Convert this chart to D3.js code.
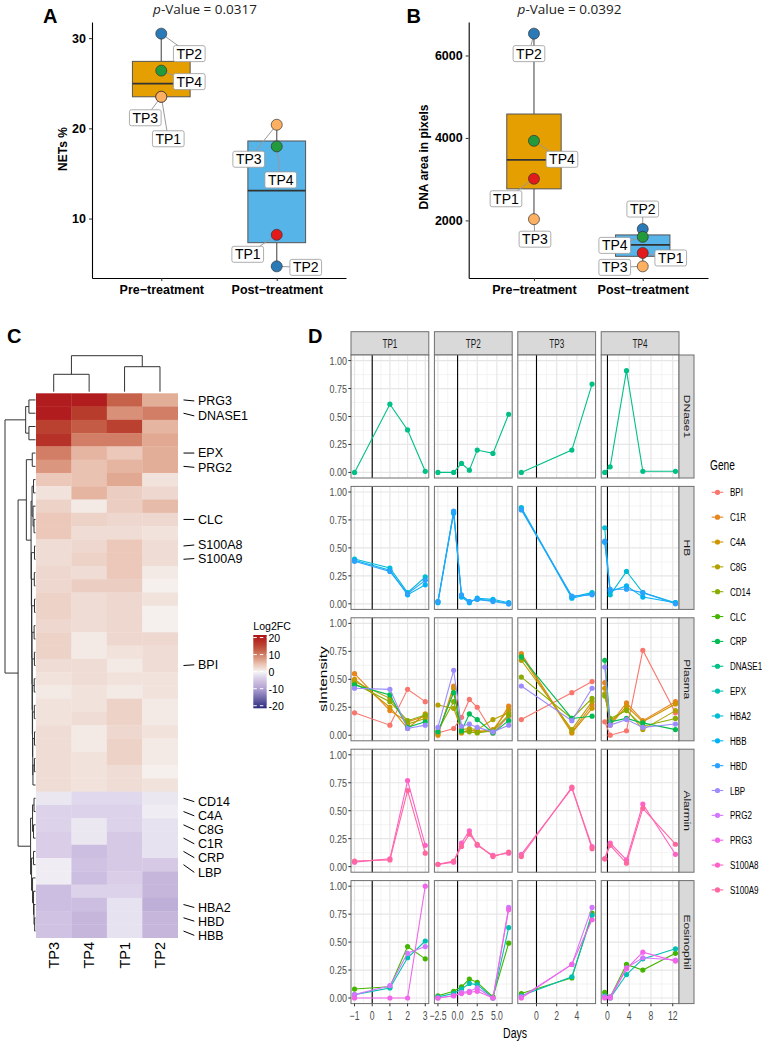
<!DOCTYPE html>
<html><head><meta charset="utf-8">
<script src="https://cdn.jsdelivr.net/npm/d3@7"></script>
<style>body{margin:0;background:#fff}svg{display:block;font-family:'Liberation Sans',Arial,sans-serif}</style>
</head><body>
<svg id="c" width="762" height="1042"></svg>
<script>
// ================= DATA =================
const boxGroups = ["Pre\u2212treatment", "Post\u2212treatment"];
const patients = ["TP1", "TP2", "TP3", "TP4"];
const netsPre = [23.5, 30.5, 23.5, 26.4];
const netsPost = [8.2, 4.7, 20.4, 18.0];
const netsTicks = [10, 20, 30];
const dnaPre = [3010, 6530, 2030, 3930];
const dnaPost = [1210, 1790, 885, 1600];
const dnaTicks = [2000, 4000, 6000];

const hmCols = ["TP3", "TP4", "TP1", "TP2"];
const hmValues = [
  [20, 20, 12.5, 6], [20, 16, 8.5, 10], [15.5, 13, 15.5, 5.5], [17.5, 10, 10, 6.5],
  [10, 5.5, 4, 6], [8, 4.5, 5.5, 6], [4, 4.5, 6.5, 1.5], [1.5, 5.5, 3.5, 2.5],
  [3, 1, 3.5, 5], [4, 3, 2.5, 2.5], [4, 2, 2, 1.5], [2, 2.5, 4, 2],
  [2, 3, 4, 2], [2.5, 2, 4, 1], [2.5, 3.5, 3.5, 0.5], [3, 2, 2.5, 1.5],
  [3, 2, 2.5, 0.5], [2.5, 2, 2.5, 0.5], [3, 1, 2.5, 2.5], [3, 1, 1.5, 2],
  [2, 2, 1, 2], [1.5, 2, 1.5, 1.5], [1, 1.5, 1, 1.5], [1.5, 1.5, 3, 1],
  [1.5, 2, 3, 1], [2, 1, 2.5, 1.5], [2, 1, 3, 1], [2, 1.5, 3, 1],
  [2, 1.5, 2, 0.5], [2, 1.5, 2, 1.5],
  [-1.5, -3, -3, -1.5], [-3.5, -3.5, -3.5, -1], [-3.5, -1.5, -3.5, -2], [-4, -1.5, -4.5, -2],
  [-4, -6, -4.5, -2], [-1, -5.5, -4.5, -4.5], [-1, -6, -4, -7], [-6, -3.5, -3.5, -7],
  [-6, -6, -2, -8], [-5.5, -7, -2, -7], [-5.5, -7, -2, -7]
];
const hmLabelRows = [0, 1, 4, 5, 9, 11, 12, 20, 30, 31, 32, 33, 34, 35, 38, 39, 40];
const hmLabelNames = ["PRG3", "DNASE1", "EPX", "PRG2", "CLC", "S100A8", "S100A9", "BPI", "CD14", "C4A", "C8G", "C1R", "CRP", "LBP", "HBA2", "HBD", "HBB"];
const legendTicks = [20, 10, 0, -10, -20];
// dendrograms: [height, left, right], leaves = row/column index
const rowTree = [31,
  [10, [6.7, 0, 1], [6.7, 2, 3]],
  [17.7,
    [9.3, [3.3, 4, 5],
      [4.5, [3.5, [2, 6, 7], [2.5, 8, [1.5, 9, 10]]],
        [4.2, [1.0, 11, 12], [4.0, [1.2, 13, 14], [3.8, [1.0, 15, 16], [3.6, [1.4, 17, 18],
          [3.4, [1.1, 19, 20], [3.2, [1.3, 21, 22], [3.0, [1.2, 23, 24], [2.8, [1.0, 25, 26], [2.6, [1.1, 27, 28], 29]]]]]]]]]]],
    [5, [3, [1.5, 30, 31], [2, 32, 33]],
      [4, [2, 34, 35], [3, 36, [2, 37, [1.5, 38, [0.8, 39, 40]]]]]]]];
const colTree = [36, [17.4, 0, 1], [25, 2, 3]];

const facetCols = ["TP1", "TP2", "TP3", "TP4"];
const facetRows = ["DNase1", "HB", "Plasma", "Alarmin", "Eosinophil"];
const daysTP1 = [-1, 1, 2, 3];
const daysTP2 = [-2.5, -0.5, 0.5, 1.5, 2.5, 4.5, 6.5];
const daysTP3 = [-1.5, 3.5, 5.5];
const daysTP4 = [-0.5, 0.5, 3.5, 6.5, 12.5];
const dayTicks = [[-1, 0, 1, 2, 3], [-2.5, 0, 2.5, 5], [0, 2, 4], [0, 4, 8, 12]];
const intensityTicks = [0, 0.25, 0.5, 0.75, 1];
const genes = ["BPI", "C1R", "C4A", "C8G", "CD14", "CLC", "CRP", "DNASE1", "EPX", "HBA2", "HBB", "HBD", "LBP", "PRG2", "PRG3", "S100A8", "S100A9"];
const geneGroup = ["Plasma", "Plasma", "Plasma", "Plasma", "Plasma", "Eosinophil", "Plasma", "DNase1", "Eosinophil", "HB", "HB", "HB", "Plasma", "Eosinophil", "Eosinophil", "Alarmin", "Alarmin"];
const sBPI = [[0.20, 0.09, 0.41, 0.30], [0.02, 0.06, 0.16, 0.32, 0.25, 0.02, 0.17], [0.14, 0.38, 0.48], [0.12, 0.00, 0.04, 0.76, 0.20]];
const sC1R = [[0.55, 0.22, 0.12, 0.17], [0.00, 0.44, 0.03, 0.04, 0.04, 0.03, 0.26], [0.73, 0.03, 0.27], [0.47, 0.10, 0.29, 0.13, 0.30]];
const sC4A = [[0.50, 0.25, 0.06, 0.19], [0.01, 0.42, 0.02, 0.05, 0.03, 0.05, 0.23], [0.71, 0.02, 0.24], [0.42, 0.09, 0.26, 0.12, 0.28]];
const sC8G = [[0.48, 0.33, 0.10, 0.15], [0.27, 0.24, 0.05, 0.06, 0.05, 0.14, 0.20], [0.67, 0.05, 0.30], [0.37, 0.13, 0.23, 0.05, 0.22]];
const sCD14 = [[0.46, 0.30, 0.13, 0.18], [0.04, 0.30, 0.03, 0.03, 0.02, 0.04, 0.18], [0.52, 0.15, 0.33], [0.35, 0.15, 0.22, 0.08, 0.15]];
const sCLC = [[0.08, 0.10, 0.46, 0.35], [0.02, 0.06, 0.10, 0.17, 0.14, 0.01, 0.49], [0.04, 0.18, 0.76], [0.05, 0.01, 0.30, 0.25, 0.40]];
const sCRP = [[0.45, 0.36, 0.07, 0.12], [0.03, 0.38, 0.04, 0.19, 0.14, 0.02, 0.13], [0.70, 0.15, 0.17], [0.67, 0.12, 0.15, 0.11, 0.05]];
const sDNASE1 = [[0.00, 0.61, 0.38, 0.01], [0.00, 0.00, 0.08, 0.02, 0.20, 0.17, 0.52], [0.00, 0.20, 0.79], [0.00, 0.05, 0.91, 0.01, 0.01]];
const sEPX = [[0.03, 0.09, 0.36, 0.51], [0.01, 0.04, 0.08, 0.13, 0.12, 0.00, 0.63], [0.02, 0.19, 0.74], [0.02, 0.00, 0.21, 0.35, 0.44]];
const sHBA2 = [[0.40, 0.32, 0.10, 0.24], [0.02, 0.82, 0.07, 0.02, 0.04, 0.03, 0.00], [0.86, 0.06, 0.10], [0.68, 0.08, 0.29, 0.10, 0.01]];
const sHBB = [[0.39, 0.30, 0.08, 0.17], [0.01, 0.81, 0.06, 0.01, 0.05, 0.04, 0.01], [0.85, 0.05, 0.09], [0.55, 0.11, 0.16, 0.06, 0.01]];
const sHBD = [[0.38, 0.29, 0.09, 0.21], [0.02, 0.83, 0.08, 0.02, 0.04, 0.02, 0.00], [0.84, 0.07, 0.08], [0.56, 0.13, 0.13, 0.10, 0.00]];
const sLBP = [[0.42, 0.41, 0.06, 0.09], [0.07, 0.58, 0.08, 0.10, 0.07, 0.03, 0.09], [0.44, 0.13, 0.42], [0.61, 0.09, 0.14, 0.07, 0.10]];
const sPRG2 = [[0.03, 0.11, 0.40, 0.46], [0.00, 0.02, 0.05, 0.06, 0.09, 0.00, 0.81], [0.01, 0.30, 0.81], [0.01, 0.01, 0.27, 0.36, 0.34]];
const sPRG3 = [[0.00, 0.00, 0.00, 1.00], [0.00, 0.02, 0.04, 0.05, 0.06, 0.00, 0.79], [0.00, 0.30, 0.70], [0.00, 0.00, 0.26, 0.41, 0.33]];
const sS100A8 = [[0.04, 0.07, 0.77, 0.19], [0.02, 0.04, 0.21, 0.32, 0.19, 0.10, 0.12], [0.11, 0.70, 0.18], [0.07, 0.21, 0.06, 0.56, 0.11]];
const sS100A9 = [[0.05, 0.06, 0.68, 0.12], [0.02, 0.05, 0.18, 0.29, 0.20, 0.09, 0.13], [0.09, 0.71, 0.16], [0.07, 0.19, 0.03, 0.52, 0.20]];

// ================= STYLE / LAYOUT =================
const daysByCol = [daysTP1, daysTP2, daysTP3, daysTP4];
const geneSeries = [sBPI, sC1R, sC4A, sC8G, sCD14, sCLC, sCRP, sDNASE1, sEPX, sHBA2, sHBB, sHBD, sLBP, sPRG2, sPRG3, sS100A8, sS100A9];
const patientColors = ["#E31A1C", "#2A7AB8", "#FDB062", "#239B3C"];
const boxFills = ["#E69F00", "#56B4E9"];
// label offsets (px) from each point, TP1..TP4
const offA = [[[7, 42], [28, 20], [-16, 21], [28, 11]], [[-29, 19.5], [29, 1], [-28, 34.5], [4, 33.5]]];
const offB = [[[-28, 20], [-5, 20], [1, 20], [28, 18.5]], [[28, 5], [0, -20], [-28, 1], [-28, 8.5]]];
const hmLabelDy = [1, 2.7, 0, 1, 0, -1, -0.7, -0.7, 3.4, 4.3, 5, 5.7, 6.3, 7.7, 3, 3.4, 4.3];

const svg = d3.select("#c");

// luv-based hcl (as R's hcl)
function hcl2hex(h, c, l) {
  const hr = h * Math.PI / 180, U = c * Math.cos(hr), V = c * Math.sin(hr);
  const Y = l > 8 ? 100 * Math.pow((l + 16) / 116, 3) : 100 * l / 903.3;
  const un = 0.1978398, vn = 0.4683363;
  const u = U / (13 * l) + un, v = V / (13 * l) + vn;
  const X = 9 * Y * u / (4 * v), Z = Y * (12 - 3 * u - 20 * v) / (4 * v);
  const x = X / 100, y = Y / 100, z = Z / 100;
  const lin = [3.240479 * x - 1.537150 * y - 0.498535 * z, -0.969256 * x + 1.875992 * y + 0.041556 * z, 0.055648 * x - 0.204043 * y + 1.057311 * z];
  const g = t => { t = Math.max(0, Math.min(1, t)); return t <= 0.0031308 ? 12.92 * t : 1.055 * Math.pow(t, 1 / 2.4) - 0.055; };
  return d3.rgb(...lin.map(t => Math.round(g(t) * 255))).formatHex();
}
const geneColors = genes.map((g, i) => hcl2hex(15 + 360 * i / genes.length, 100, 65));

function stext(p, x, y, s, size, sx, anchor, rot, fill, weight) {
  return p.append("text")
    .attr("transform", `translate(${x},${y}) scale(${sx},1)` + (rot ? ` rotate(${rot})` : ""))
    .attr("text-anchor", anchor || "start").attr("dy", "0.35em")
    .attr("font-size", size).attr("fill", fill || "#1A1A1A")
    .attr("font-weight", weight || "normal").text(s);
}

// ================= PANELS A & B =================
function boxPanel(cfg) {
  const g = svg.append("g");
  const all = cfg.pre.concat(cfg.post);
  const ext = d3.extent(all), pad = (ext[1] - ext[0]) * 0.05;
  const y = d3.scaleLinear().domain([ext[0] - pad, ext[1] + pad]).range([278, 22]);
  const x = d3.scalePoint().domain(boxGroups).range([cfg.left, cfg.right]).padding(0.6);
  const bw = x.step() * 0.5;
  const ya = g.append("g").attr("transform", `translate(${cfg.left},0)`)
    .call(d3.axisLeft(y).tickValues(cfg.ticks).tickSize(3).tickPadding(3).tickSizeOuter(0).tickFormat(d3.format("d")));
  const xa = g.append("g").attr("transform", "translate(0,278)")
    .call(d3.axisBottom(x).tickSize(3).tickPadding(4).tickSizeOuter(0));
  [ya, xa].forEach(a => {
    a.select(".domain").attr("stroke", "#000").attr("stroke-width", 1.1);
    a.selectAll(".tick line").attr("stroke", "#333");
    a.selectAll("text").attr("font-size", 12.5).attr("font-weight", "bold").attr("fill", "#000")
      .attr("font-family", "'Liberation Sans',Arial,sans-serif");
  });
  stext(g, cfg.ylabX, cfg.ylabY, cfg.ylab, 12, 1, "middle", -90, "#000", "bold");
  const t = g.append("text").attr("x", cfg.titleX).attr("y", 14).attr("text-anchor", "middle")
    .attr("font-family", "'Open Sans',sans-serif").attr("font-size", 13.5).attr("fill", "#222");
  t.append("tspan").attr("font-style", "italic").text("p");
  t.append("tspan").text("-Value = " + cfg.p);
  g.append("text").attr("x", cfg.letterX).attr("y", 23).attr("font-size", 20).attr("font-weight", "bold").text(cfg.letter);

  [cfg.pre, cfg.post].forEach((vals, gi) => {
    const cx = x(boxGroups[gi]);
    const s = vals.slice().sort(d3.ascending);
    const q1 = d3.quantile(s, 0.25), med = d3.quantile(s, 0.5), q3 = d3.quantile(s, 0.75), iqr = q3 - q1;
    const lo = d3.min(s.filter(v => v >= q1 - 1.5 * iqr)), hi = d3.max(s.filter(v => v <= q3 + 1.5 * iqr));
    g.append("line").attr("x1", cx).attr("x2", cx).attr("y1", y(hi)).attr("y2", y(q3)).attr("stroke", "#6A6A6A").attr("stroke-width", 1.3);
    g.append("line").attr("x1", cx).attr("x2", cx).attr("y1", y(q1)).attr("y2", y(lo)).attr("stroke", "#6A6A6A").attr("stroke-width", 1.3);
    g.append("rect").attr("x", cx - bw / 2).attr("y", y(q3)).attr("width", bw).attr("height", y(q1) - y(q3))
      .attr("fill", boxFills[gi]).attr("stroke", "#555").attr("stroke-width", 1);
    g.append("line").attr("x1", cx - bw / 2).attr("x2", cx + bw / 2).attr("y1", y(med)).attr("y2", y(med)).attr("stroke", "#333").attr("stroke-width", 1.8);
  });
  // labels
  const labs = [];
  [cfg.pre, cfg.post].forEach((vals, gi) => vals.forEach((v, pi) => {
    const px = x(boxGroups[gi]), py = y(v);
    labs.push({ px, py, cx: px + cfg.off[gi][pi][0], cy: py + cfg.off[gi][pi][1], name: patients[pi], pi });
  }));
  const segG = g.append("g"), ptG = g.append("g"), labG = g.append("g");
  labs.forEach(L => {
    const tx = labG.append("text").attr("x", L.cx).attr("y", L.cy).attr("dy", "0.36em").attr("text-anchor", "middle")
      .attr("font-size", 14).attr("fill", "#000").text(L.name);
    const w = tx.node().getComputedTextLength() + 6, h = 16;
    labG.insert("rect", () => tx.node()).attr("x", L.cx - w / 2).attr("y", L.cy - h / 2).attr("width", w).attr("height", h)
      .attr("rx", 2).attr("fill", "#fff").attr("stroke", "#999").attr("stroke-width", 0.8);
    const dx = L.cx - L.px, dy = L.cy - L.py;
    const f = Math.min(dx ? (w / 2) / Math.abs(dx) : 1e9, dy ? (h / 2) / Math.abs(dy) : 1e9);
    segG.append("line").attr("x1", L.px).attr("y1", L.py).attr("x2", L.cx - dx * f).attr("y2", L.cy - dy * f)
      .attr("stroke", "#999").attr("stroke-width", 1);
    ptG.append("circle").attr("cx", L.px).attr("cy", L.py).attr("r", 5.5)
      .attr("fill", patientColors[L.pi]).attr("stroke", "#333").attr("stroke-width", 0.7);
  });
}
boxPanel({ pre: netsPre, post: netsPost, ticks: netsTicks, left: 92, right: 346, ylab: "NETs %", ylabX: 62.5, ylabY: 149,
  titleX: 205, p: "0.0317", letter: "A", letterX: 43, off: offA });
boxPanel({ pre: dnaPre, post: dnaPost, ticks: dnaTicks, left: 468.7, right: 708, ylab: "DNA area in pixels", ylabX: 424, ylabY: 157,
  titleX: 569.5, p: "0.0392", letter: "B", letterX: 406.5, off: offB });

// ================= PANEL C (heatmap) =================
const gc = svg.append("g");
gc.append("text").attr("x", 7).attr("y", 343).attr("font-size", 20).attr("font-weight", "bold").text("C");
const hmX = d3.scaleBand().domain(d3.range(hmCols.length)).range([36, 177.7]);
const hmY = d3.scaleBand().domain(d3.range(hmValues.length)).range([393.3, 937.7]);
const hmColor = d3.scaleLinear()
  .domain([-21.5, -10.75, -7, -4, -2, 0, 2, 4, 6, 10, 13, 16, 21.5])
  .range(["#2B2A7C", "#A99BCE", "#C6B6DC", "#D9CDE7", "#E6E2F0", "#F7F5F5", "#EFDCD4", "#EBC8BA", "#E3AE98", "#D27E66", "#C45B44", "#B83C2C", "#AF1219"])
  .interpolate(d3.interpolateRgb).clamp(true);
hmValues.forEach((row, r) => row.forEach((v, c) => {
  gc.append("rect").attr("x", hmX(c)).attr("y", hmY(r)).attr("width", hmX.bandwidth() + 0.3).attr("height", hmY.bandwidth() + 0.3)
    .attr("fill", hmColor(v));
}));
hmCols.forEach((name, c) => stext(gc, hmX(c) + hmX.bandwidth() / 2, 942, name, 14.5, 1, "end", -90, "#000"));
hmLabelRows.forEach((r, i) => {
  const yc = hmY(r) + hmY.bandwidth() / 2, ly = yc + hmLabelDy[i];
  gc.append("line").attr("x1", 183.5).attr("y1", yc).attr("x2", 194.3).attr("y2", ly).attr("stroke", "#000").attr("stroke-width", 1);
  stext(gc, 198, ly, hmLabelNames[i], 12.5, 1, "start", 0, "#000");
});
function layoutTree(node, leafPos) {
  if (typeof node === "number") return { h: 0, pos: leafPos(node) };
  const A = layoutTree(node[1], leafPos), B = layoutTree(node[2], leafPos);
  return { h: node[0], pos: (A.pos + B.pos) / 2, kids: [A, B] };
}
const rowH = d3.scaleLinear().domain([0, 31]).range([35.5, 5]);
const colH = d3.scaleLinear().domain([0, 36]).range([391.7, 355.7]);
function drawTree(n, orient) {
  if (!n.kids) return;
  const [A, B] = n.kids;
  const d = orient === "row"
    ? `M${rowH(A.h)},${A.pos}H${rowH(n.h)}V${B.pos}H${rowH(B.h)}`
    : `M${A.pos},${colH(A.h)}V${colH(n.h)}H${B.pos}V${colH(B.h)}`;
  gc.append("path").attr("d", d).attr("fill", "none").attr("stroke", "#333").attr("stroke-width", 1);
  drawTree(A, orient); drawTree(B, orient);
}
drawTree(layoutTree(rowTree, i => hmY(i) + hmY.bandwidth() / 2), "row");
drawTree(layoutTree(colTree, i => hmX(i) + hmX.bandwidth() / 2), "col");
// legend
const lgY = d3.scaleLinear().domain([21.5, -21.5]).range([635, 708.3]);
const grad = svg.append("defs").append("linearGradient").attr("id", "lg").attr("x1", 0).attr("x2", 0).attr("y1", 0).attr("y2", 1);
d3.range(0, 1.0001, 0.05).forEach(t => grad.append("stop").attr("offset", t).attr("stop-color", hmColor(21.5 - 43 * t)));
gc.append("rect").attr("x", 253.3).attr("y", 635).attr("width", 13.4).attr("height", 73.3).attr("fill", "url(#lg)");
legendTicks.forEach(v => {
  gc.append("line").attr("x1", 253.3).attr("x2", 266.7).attr("y1", lgY(v)).attr("y2", lgY(v))
    .attr("stroke", "#fff").attr("stroke-width", 1).attr("stroke-dasharray", "3.5,3");
  stext(gc, 268.5, lgY(v), String(v), 11.5, 0.92, "start", 0, "#000");
});
stext(gc, 253.3, 626, "Log2FC", 11.5, 0.92, "start", 0, "#000");

// ================= PANEL D =================
const gd = svg.append("g");
gd.append("text").attr("x", 308).attr("y", 343).attr("font-size", 20).attr("font-weight", "bold").text("D");
const PX0 = 351, PSTEP = 83.4, PW = 77.8, PY0 = 355, PYSTEP = 131.4, PH = 123;
const yS = d3.scaleLinear().domain([-0.05, 1.05]);
const SX = 0.7;
facetCols.forEach((tp, j) => {
  const days = daysByCol[j], ext = d3.extent(days), pad = (ext[1] - ext[0]) * 0.05;
  const px = PX0 + j * PSTEP;
  const xS = d3.scaleLinear().domain([ext[0] - pad, ext[1] + pad]).range([px, px + PW]);
  const ticks = dayTicks[j], step = ticks[1] - ticks[0];
  const ext2 = [ticks[0] - step].concat(ticks, [ticks[ticks.length - 1] + step]);
  const minorX = d3.pairs(ext2).map(p => (p[0] + p[1]) / 2).filter(v => v > xS.domain()[0] && v < xS.domain()[1]);
  const minorY = d3.pairs([-0.25].concat(intensityTicks, [1.25])).map(p => (p[0] + p[1]) / 2).filter(v => v > -0.05 && v < 1.05);
  // top strip
  gd.append("rect").attr("x", px).attr("y", PY0 - 23.3).attr("width", PW).attr("height", 23.3)
    .attr("fill", "#D9D9D9").attr("stroke", "#6E6E6E").attr("stroke-width", 1);
  stext(gd, px + PW / 2, PY0 - 11.6, tp, 12, 0.68, "middle", 0, "#1A1A1A");
  facetRows.forEach((cat, i) => {
    const py = PY0 + i * PYSTEP;
    yS.range([py + PH, py]);
    const pg = gd.append("g");
    pg.append("rect").attr("x", px).attr("y", py).attr("width", PW).attr("height", PH).attr("fill", "#fff");
    minorX.forEach(v => pg.append("line").attr("x1", xS(v)).attr("x2", xS(v)).attr("y1", py).attr("y2", py + PH).attr("stroke", "#F0F0F0").attr("stroke-width", 0.8));
    minorY.forEach(v => pg.append("line").attr("x1", px).attr("x2", px + PW).attr("y1", yS(v)).attr("y2", yS(v)).attr("stroke", "#F0F0F0").attr("stroke-width", 0.8));
    ticks.forEach(v => pg.append("line").attr("x1", xS(v)).attr("x2", xS(v)).attr("y1", py).attr("y2", py + PH).attr("stroke", "#E6E6E6").attr("stroke-width", 1.2));
    intensityTicks.forEach(v => pg.append("line").attr("x1", px).attr("x2", px + PW).attr("y1", yS(v)).attr("y2", yS(v)).attr("stroke", "#E6E6E6").attr("stroke-width", 1.2));
    pg.append("line").attr("x1", xS(0)).attr("x2", xS(0)).attr("y1", py).attr("y2", py + PH).attr("stroke", "#000").attr("stroke-width", 1.1);
    const line = d3.line().x(d => xS(d[0])).y(d => yS(d[1]));
    genes.forEach((gname, k) => {
      if (geneGroup[k] !== cat) return;
      const pts = days.map((d, m) => [d, geneSeries[k][j][m]]);
      pg.append("path").attr("d", line(pts)).attr("fill", "none").attr("stroke", geneColors[k]).attr("stroke-width", 1.1);
      pts.forEach(p => pg.append("circle").attr("cx", xS(p[0])).attr("cy", yS(p[1])).attr("r", 2.6).attr("fill", geneColors[k]));
    });
    pg.append("rect").attr("x", px).attr("y", py).attr("width", PW).attr("height", PH).attr("fill", "none")
      .attr("stroke", "#6E6E6E").attr("stroke-width", 1);
    if (j === 0) {
      intensityTicks.forEach(v => {
        gd.append("line").attr("x1", px - 2.7).attr("x2", px).attr("y1", yS(v)).attr("y2", yS(v)).attr("stroke", "#333");
        stext(gd, px - 4, yS(v), d3.format(".2f")(v), 11.5, 0.78, "end", 0, "#4D4D4D");
      });
    }
    if (j === facetCols.length - 1) {
      gd.append("rect").attr("x", px + PW).attr("y", py).attr("width", 15).attr("height", PH)
        .attr("fill", "#D9D9D9").attr("stroke", "#6E6E6E").attr("stroke-width", 1);
      stext(gd, px + PW + 7.5, py + PH / 2, cat, 12, 0.68, "middle", 90, "#1A1A1A");
    }
    if (i === facetRows.length - 1) {
      const fmt = j === 1 ? d3.format(".1f") : d3.format("d");
      ticks.forEach(v => {
        gd.append("line").attr("x1", xS(v)).attr("x2", xS(v)).attr("y1", py + PH).attr("y2", py + PH + 2.7).attr("stroke", "#333");
        stext(gd, xS(v), py + PH + 12, fmt(v), 12, 0.72, "middle", 0, "#4D4D4D");
      });
    }
  });
});
stext(gd, 515, 1033, "Days", 15, SX, "middle", 0, "#000");
stext(gd, 323, 679, "sIntensity", 15.5, 0.72, "middle", -90, "#000");
// legend
stext(gd, 710, 465, "Gene", 14.5, SX, "start", 0, "#000");
genes.forEach((gname, k) => {
  const yy = 492.3 + k * 24.85;
  gd.append("line").attr("x1", 711.7).attr("x2", 723.3).attr("y1", yy).attr("y2", yy).attr("stroke", geneColors[k]).attr("stroke-width", 1.1);
  gd.append("circle").attr("cx", 717.5).attr("cy", yy).attr("r", 2.6).attr("fill", geneColors[k]);
  stext(gd, 730, yy, gname, 11.5, SX, "start", 0, "#000");
});
</script>
</body></html>
